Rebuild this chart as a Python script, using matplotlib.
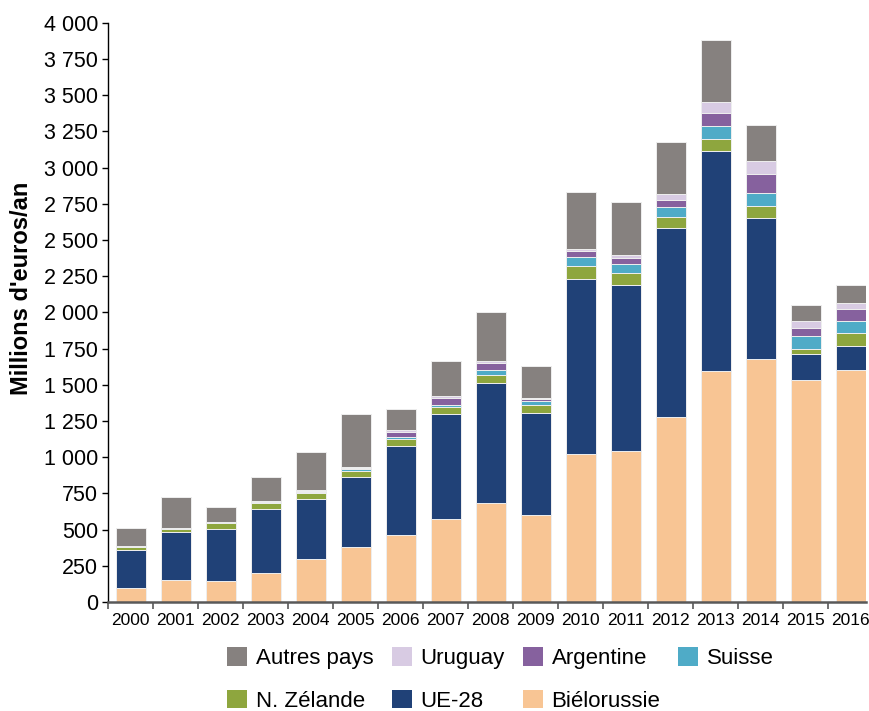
import numpy as np
import matplotlib
matplotlib.use("Agg")
import matplotlib.pyplot as plt
from matplotlib.patches import Patch

plt.rcParams['font.family'] = ['Liberation Sans', 'DejaVu Sans']

# Data (millions d'euros / an)
years = [str(y) for y in range(2000, 2017)]
bielorussie = [96, 154, 142, 202, 296, 382, 464, 575, 685, 600, 1019, 1042, 1276, 1596, 1680, 1536, 1601]
ue28 = [262, 331, 364, 437, 417, 478, 614, 725, 824, 704, 1213, 1145, 1307, 1516, 971, 177, 165]
nz = [23, 18, 41, 46, 37, 42, 49, 43, 55, 53, 90, 86, 76, 88, 81, 37, 91]
suisse = [7, 7, 7, 7, 9, 14, 9, 16, 37, 34, 60, 63, 70, 86, 91, 86, 86]
argentine = [0, 0, 0, 3, 7, 9, 39, 46, 51, 10, 43, 41, 47, 94, 130, 57, 78]
uruguay = [0, 0, 0, 0, 4, 7, 12, 14, 9, 4, 10, 19, 42, 75, 94, 47, 44]
autres = [125, 212, 104, 170, 265, 363, 143, 242, 339, 221, 396, 364, 359, 425, 247, 109, 122]

series = [
    ("Biélorussie", bielorussie, "#f8c594"),
    ("UE-28", ue28, "#204177"),
    ("N. Zélande", nz, "#8ea63e"),
    ("Suisse", suisse, "#4fabc7"),
    ("Argentine", argentine, "#86619e"),
    ("Uruguay", uruguay, "#d8cbe3"),
    ("Autres pays", autres, "#86817f"),
]

fig = plt.figure(figsize=(8.69, 7.11), dpi=100)
ax = fig.add_axes([0.1243, 0.1534, 0.8717, 0.8146])

x = np.arange(len(years))
bottom = np.zeros(len(years))
for name, vals, col in series:
    ax.bar(x, vals, width=0.667, bottom=bottom, color=col,
           edgecolor="#eeeeee", linewidth=0.7, label=name)
    bottom += np.array(vals)

ax.set_xlim(-0.5, 16.33)
ax.set_ylim(0, 4000)
yt = np.arange(0, 4001, 250)
ax.set_yticks(yt)
ax.set_yticklabels([f"{v:,}".replace(",", " ") for v in yt], fontsize=15.5)
ax.set_xticks(x)
ax.set_xticklabels(years, fontsize=12.5)
ax.set_xticks(np.arange(-0.5, 16.5, 1), minor=True)
ax.tick_params(axis='x', which='major', length=0, pad=8)
ax.tick_params(axis='x', which='minor', length=5, width=1.2, color="#595959")
ax.tick_params(axis='y', length=4, width=1, pad=3)

ax.spines['top'].set_visible(False)
ax.spines['right'].set_visible(False)
ax.spines['bottom'].set_color("#595959")
ax.spines['bottom'].set_linewidth(1.8)
ax.spines['left'].set_linewidth(1)

ax.set_ylabel("Millions d'euros/an", fontsize=17, fontweight='bold')
ax.yaxis.set_label_coords(-0.099, 0.542)

# legend laid out row by row like the original
lookup = {n: c for n, v, c in series}
order = ["Autres pays", "N. Zélande", "Uruguay", "UE-28", "Argentine", "Biélorussie", "Suisse"]
handles = [Patch(facecolor=lookup[n], edgecolor='none', label=n) for n in order]
fig.legend(handles=handles, loc='upper left', bbox_to_anchor=(0.249, 0.105),
           ncol=4, frameon=False, fontsize=16, handlelength=0.9, handleheight=0.9,
           handletextpad=0.4, columnspacing=0.8, labelspacing=0.93, borderpad=0)

fig.savefig("out.png", dpi=100)
